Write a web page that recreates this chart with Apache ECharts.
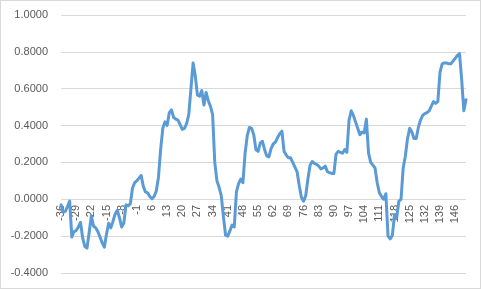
<!DOCTYPE html>
<html>
<head>
<meta charset="utf-8">
<script src="https://cdn.jsdelivr.net/npm/echarts@6/dist/echarts.min.js"></script>
<style>
html,body{margin:0;padding:0;background:#fff;}
#c{width:481px;height:289px;box-sizing:border-box;border:1px solid #d9d9d9;}
</style>
</head>
<body>
<div id="c"></div>
<script>
var categories = [-36,-35,-34,-33,-32,-31,-30,-29,-28,-27,-26,-25,-24,-23,-22,-21,-20,-19,-18,-17,-16,-15,-14,-13,-12,-11,-10,-9,-8,-7,-6,-5,-4,-3,-2,-1,0,1,2,3,4,5,6,7,8,9,10,11,12,13,14,15,16,17,18,19,20,21,22,23,24,25,26,27,28,29,30,31,32,33,34,35,36,37,38,39,40,41,42,43,44,45,46,47,48,49,50,51,52,53,54,55,56,57,58,59,60,61,62,63,64,65,66,67,68,69,70,71,72,73,74,75,76,77,78,79,80,81,82,83,84,85,86,87,88,89,90,91,92,93,94,95,96,97,98,99,100,101,102,103,104,105,106,107,108,109,110,111,112,113,114,115,116,117,118,119,120,121,122,123,124,125,126,127,128,129,130,131,132,133,134,135,136,137,138,139,140,141,142,143,144,145,146,147,148,149,150,151];

var values = [
-0.03,-0.07,-0.065,-0.04,-0.01,-0.205,-0.175,-0.17,-0.15,-0.125,
-0.21,-0.255,-0.265,-0.18,-0.09,-0.145,-0.155,-0.175,-0.205,-0.235,
-0.26,-0.19,-0.13,-0.155,-0.12,-0.08,-0.06,-0.1,-0.15,-0.13,
-0.03,-0.035,-0.025,0.06,0.09,0.1,0.115,0.13,0.07,0.04,
0.035,0.015,0.003,0.015,0.045,0.12,0.27,0.385,0.42,0.40,
0.47,0.485,0.445,0.435,0.43,0.405,0.38,0.385,0.41,0.46,
0.60,0.74,0.67,0.565,0.56,0.59,0.512,0.58,0.535,0.505,
0.46,0.2,0.1,0.065,0.02,-0.095,-0.195,-0.2,-0.17,-0.14,
-0.15,0.04,0.085,0.11,0.09,0.25,0.345,0.39,0.385,0.35,
0.27,0.26,0.305,0.315,0.27,0.235,0.23,0.275,0.3,0.31,
0.335,0.355,0.37,0.26,0.24,0.225,0.225,0.2,0.175,0.15,
0.075,0.01,-0.01,0.02,0.11,0.185,0.205,0.195,0.19,0.18,
0.165,0.17,0.18,0.15,0.145,0.14,0.14,0.245,0.26,0.255,
0.25,0.27,0.255,0.43,0.48,0.455,0.42,0.385,0.35,0.365,
0.36,0.435,0.25,0.2,0.185,0.17,0.09,0.035,0.015,0.0,
0.03,-0.2,-0.215,-0.195,-0.085,-0.1,-0.01,0.0,0.17,0.235,
0.33,0.385,0.365,0.33,0.33,0.39,0.43,0.455,0.465,0.47,
0.48,0.505,0.53,0.52,0.53,0.69,0.735,0.74,0.74,0.735,
0.735,0.75,0.765,0.78,0.79,0.65,0.48,0.54
];

var yMin = -0.4, yMax = 1.0, yStep = 0.2;

var gridTop = 14, gridBottom = 15, chartH = 289;
var plotH = chartH - gridTop - gridBottom;
var zeroOffset = -Math.round(plotH * (0 - yMin) / (yMax - yMin));

var chart = echarts.init(document.getElementById('c'), null, {renderer: 'canvas'});
chart.setOption({
  animation: false,
  grid: {left: 60, right: 14, top: gridTop, bottom: gridBottom, containLabel: false},
  xAxis: {
    type: 'category',
    data: categories,
    boundaryGap: false,
    position: 'bottom',
    offset: zeroOffset,
    axisLine: {show: false, onZero: false},
    axisTick: {show: false},
    axisLabel: {
      interval: 6,
      rotate: 90,
      margin: 6,
      color: '#595959',
      fontSize: 11,
      fontFamily: 'Liberation Sans'
    },
    splitLine: {show: false}
  },
  yAxis: {
    type: 'value',
    min: yMin,
    max: yMax,
    interval: yStep,
    axisLine: {show: false},
    axisTick: {show: false},
    axisLabel: {
      color: '#595959',
      fontSize: 11,
      fontFamily: 'Liberation Sans',
      margin: 13,
      formatter: function (v) { return v.toFixed(4); }
    },
    splitLine: {lineStyle: {color: '#d9d9d9', width: 1}}
  },
  series: [{
    type: 'line',
    data: values,
    showSymbol: false,
    smooth: false,
    lineStyle: {color: '#5b9bd5', width: 3, join: 'round', cap: 'round'},
    itemStyle: {color: '#5b9bd5'}
  }]
});
</script>
</body>
</html>
